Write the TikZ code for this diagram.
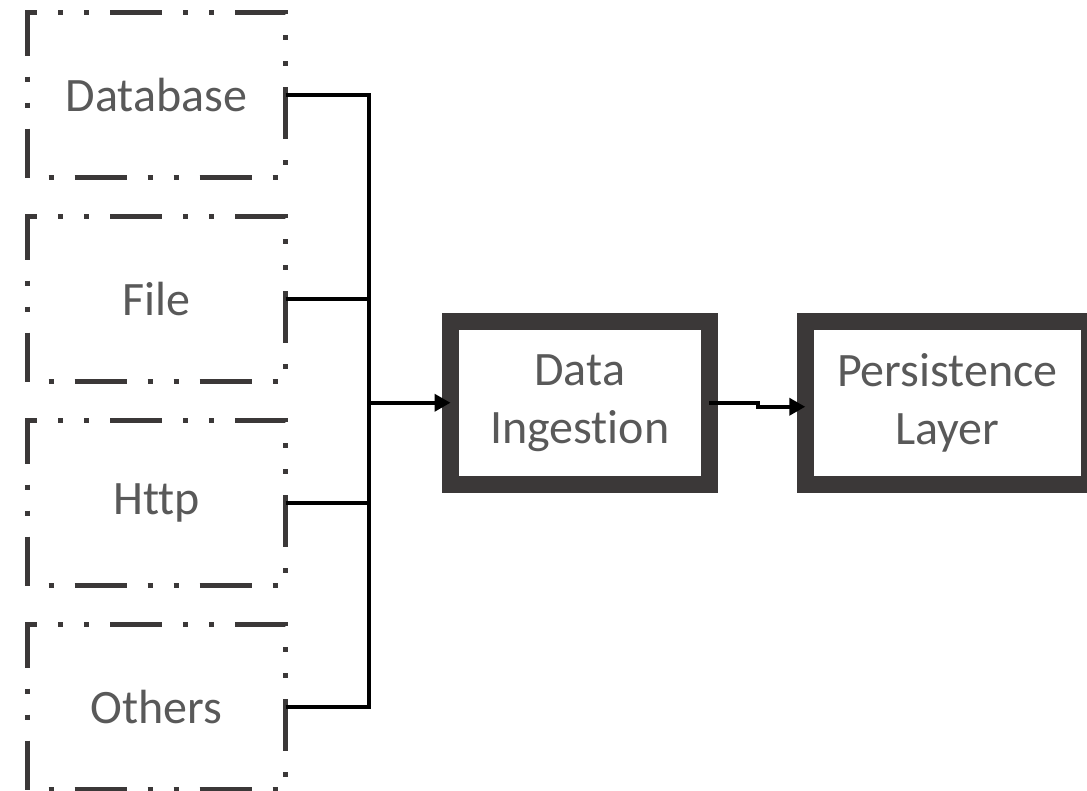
\documentclass[tikz,border=0pt]{standalone}
\usepackage{fontspec}
\setmainfont{Carlito}[Ligatures=NoCommon]
\usetikzlibrary{arrows.meta,positioning}
\definecolor{colBord}{RGB}{59,56,56}
\definecolor{colTexte}{RGB}{89,89,89}

\begin{document}
\begin{tikzpicture}[x=1pt, y=-1pt,
    src/.style={rectangle, draw=colBord, line width=5pt, outer sep=0pt,
      minimum width=258pt, minimum height=165pt, text=colTexte,
      dash pattern=on 5pt off 21pt on 52pt off 21pt on 5pt off 21pt,
      dash phase=104pt, font=\fontsize{48}{58}\selectfont},
    blk/.style={rectangle, draw=colBord, line width=17pt, outer sep=0pt,
      minimum height=163.5pt, align=center, text=colTexte,
      font=\fontsize{48}{58}\selectfont},
    ln/.style={line width=3.8pt, black},
    fl/.style={ln, -{Triangle[length=16pt,width=17pt]}}]
    \useasboundingbox (0,0) rectangle (1087,790);
    % sources
    \node[src] (db) at (156.5,95) {Database};
    \node[src, below=39pt of db] (file) {File};
    \node[src, below=39pt of file] (http) {Http};
    \node[src, below=39pt of http] (autres) {Others};
    % traitement
    \node[blk, minimum width=258.5pt] (ing) at (579.75,402.75)
      {Data\\ Ingestion};
    \node[blk, minimum width=284pt, right=96.25pt of ing] (pers)
      {Persistence\\ Layer};
    \coordinate (bus) at (369,402.75);
    \draw[ln] (db.east) -| (bus); \draw[ln] (file.east) -| (bus);
    \draw[ln] (http.east) -| (bus); \draw[ln] (autres.east) -| (bus);
    \draw[fl] (bus) -- (ing.west);
    \draw[fl] (ing.east) -- ++(49pt,0) |- ([yshift=-4pt]pers.west);
  \end{tikzpicture}
\end{document}
